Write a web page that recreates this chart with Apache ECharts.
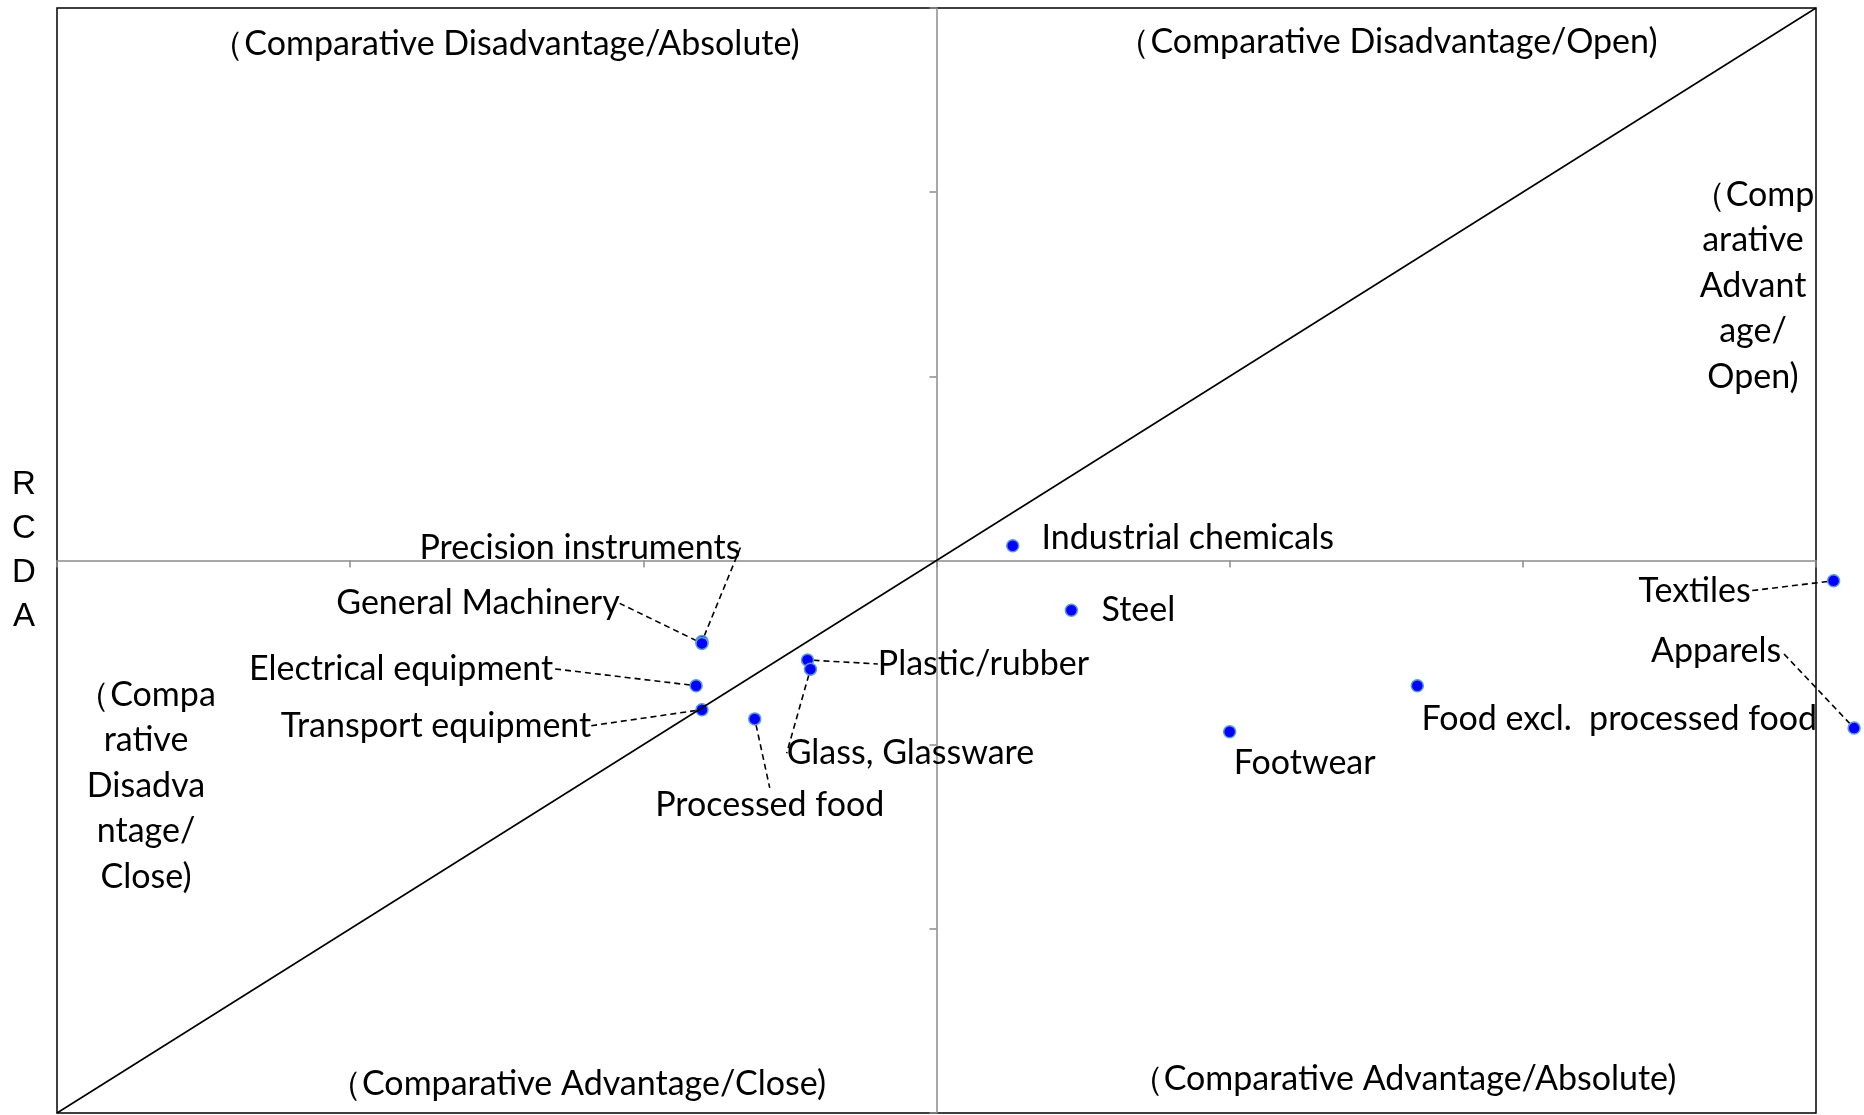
<!DOCTYPE html>
<html>
<head>
<meta charset="utf-8">
<title>RCA / RCDA</title>
<script src="https://cdn.jsdelivr.net/npm/echarts@6/dist/echarts.min.js"></script>
<style>
  html, body { margin: 0; padding: 0; background: #fff; }
  #chart { width: 1864px; height: 1115px; }
</style>
</head>
<body>
<div id="chart"></div>
<script>
// industries and their position (x = comparative advantage index, y = RCDA)
var industries = [
  "Precision instruments", "General Machinery", "Electrical equipment",
  "Transport equipment", "Processed food", "Plastic/rubber",
  "Glass, Glassware", "Industrial chemicals", "Steel", "Footwear",
  "Food excl.  processed food", "Textiles", "Apparels"
];
var xValues = [-0.80, -0.80, -0.82, -0.80, -0.62, -0.44, -0.43, 0.26, 0.46, 1.00, 1.64, 3.06, 3.13];
var rcdaValues = [-0.44, -0.45, -0.68, -0.81, -0.86, -0.54, -0.59, 0.08, -0.27, -0.93, -0.68, -0.11, -0.91];
var hasLeader = [true, true, true, true, true, true, true, false, false, false, false, true, true];
var axisRange = [-3, 3];

// label offsets from the dot (px)
var labelOffsets = [
  [-122, -94], [-224, -40], [-295, -17], [-266, 16], [15, 86], [176, 4],
  [100, 84], [175, -8], [67, 0], [75, 31], [202, 33], [-139, 10], [-138, -77]
];

var txtFont = "Lato, 'Open Sans', sans-serif";
var txtSize = 34;

var myChart = echarts.init(document.getElementById("chart"));

var points = industries.map(function (name, i) {
  return {
    name: name,
    value: [xValues[i], rcdaValues[i]],
    labelLine: { show: hasLeader[i] }
  };
});

function quadText(text, x, y) {
  return {
    type: "text",
    x: x,
    y: y,
    style: {
      text: text,
      fill: "#000",
      fontSize: txtSize,
      fontFamily: txtFont,
      lineHeight: 45.5,
      align: "center",
      verticalAlign: "middle"
    }
  };
}

var option = {
  backgroundColor: "#fff",
  animation: false,
  grid: {
    left: 57, top: 8, right: 48, bottom: 2,
    show: true, borderColor: "#000", borderWidth: 1.5
  },
  xAxis: {
    type: "value",
    min: axisRange[0], max: axisRange[1], interval: 1,
    axisLine: { onZero: true, lineStyle: { color: "#8c8c8c", width: 1.5 } },
    axisTick: { show: true, length: 7, lineStyle: { color: "#8c8c8c", width: 1.5 } },
    axisLabel: { show: false },
    splitLine: { show: false }
  },
  yAxis: {
    type: "value",
    min: axisRange[0], max: axisRange[1], interval: 1,
    axisLine: { onZero: true, lineStyle: { color: "#8c8c8c", width: 1.5 } },
    axisTick: { show: true, length: 7, lineStyle: { color: "#8c8c8c", width: 1.5 } },
    axisLabel: { show: false },
    splitLine: { show: false }
  },
  graphic: [
    quadText("（Comparative Disadvantage/Absolute)", 505, 44),
    quadText("（Comparative Disadvantage/Open)", 1387, 42),
    quadText("（Comparative Advantage/Close)", 577, 1084),
    quadText("（Comparative Advantage/Absolute)", 1403, 1079),
    quadText("（Comp\narative\nAdvant\nage/\nOpen)", 1753, 286),
    quadText("（Compa\nrative\nDisadva\nntage/\nClose)", 146, 786),
    {
      type: "text", x: 24, y: 551,
      style: {
        text: "R\nC\nD\nA", fill: "#000", fontSize: 33,
        fontFamily: "'Liberation Sans', Arial, sans-serif",
        lineHeight: 44, align: "center", verticalAlign: "middle"
      }
    }
  ],
  series: [
    {
      type: "line",
      data: [[axisRange[0], axisRange[0]], [axisRange[1], axisRange[1]]],
      symbol: "none",
      lineStyle: { color: "#000", width: 1.6 },
      silent: true
    },
    {
      type: "scatter",
      clip: false,
      symbolSize: 12,
      itemStyle: { color: "#0000ff", borderColor: "#5b9bd5", borderWidth: 1.5, opacity: 1 },
      data: points,
      label: {
        show: true,
        position: "inside",
        formatter: "{b}",
        color: "#000",
        fontSize: txtSize,
        fontFamily: txtFont
      },
      labelLine: {
        show: false,
        lineStyle: { color: "#000", width: 1.6, type: [6, 4] }
      },
      labelLayout: function (params) {
        var o = labelOffsets[params.dataIndex];
        return { dx: o[0], dy: o[1] };
      }
    }
  ]
};

option && myChart.setOption(option);
</script>
</body>
</html>
